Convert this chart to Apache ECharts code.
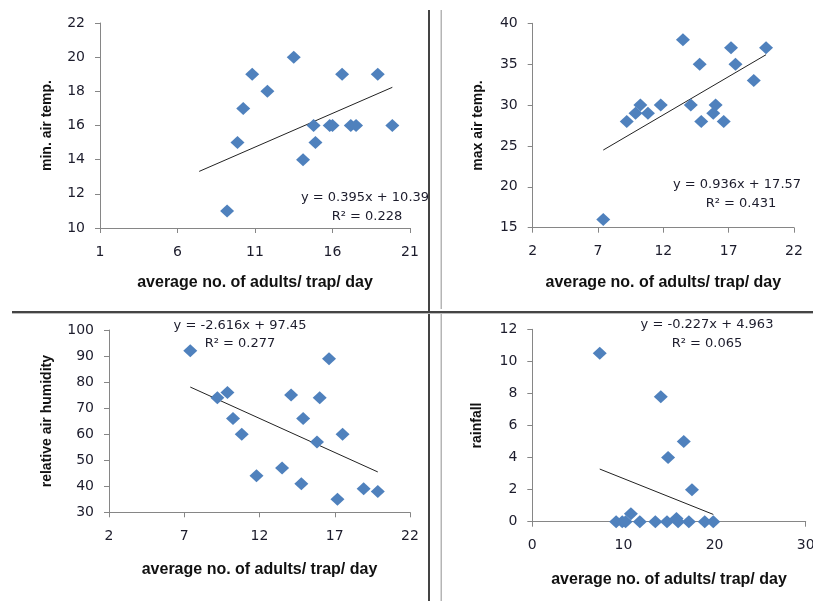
<!DOCTYPE html>
<html>
<head>
<meta charset="utf-8">
<script src="https://cdn.jsdelivr.net/npm/echarts@6/dist/echarts.min.js"></script>
<style>
html,body{margin:0;padding:0;background:#fff;}
#c{width:813px;height:601px;}
</style>
</head>
<body>
<div id="c"></div>
<script>
// ---- data ----
const adults   = [7.4, 9.2, 9.87, 10.24, 10.82, 11.8, 13.5, 14.1, 14.78, 14.9, 15.82, 16.0, 16.62, 17.18, 17.52, 18.92, 19.86];
const minTemp  = [null, 11, 15, 17, 19, 18, 20, 14, 16, 15, 16, 16, 19, 16, 16, 19, 16];
const maxTemp  = [16, 28, 29, 30, 29, 30, 38, 30, 35, 28, 29, 30, 28, 37, 35, 33, 37];
const humidity = [92, 74, 76, 66, 60, 44, 47, 75, 41, 66, 57, 74, 89, 35, 60, 39, 38];
const rainfall = [10.5, 0, 0, 0, 0.5, 0, 0, 7.8, 0, 4, 0.2, 0, 5, 0, 2, 0, 0];

const yNames   = ['min. air temp.', 'max air temp.', 'relative air humidity', 'rainfall'];
const xName    = 'average no. of adults/ trap/ day';
const xMins    = [1, 2, 2, 0];
const xMaxs    = [21, 22, 22, 30];
const xSteps   = [5, 5, 5, 10];
const yMins    = [10, 15, 30, 0];
const yMaxs    = [22, 40, 100, 12];
const ySteps   = [2, 5, 10, 2];
const slopes     = [0.395, 0.936, -2.616, -0.227];
const intercepts = [10.39, 17.57, 97.45, 4.963];
const eqLabels = ['y = 0.395x + 10.39', 'y = 0.936x + 17.57', 'y = -2.616x + 97.45', 'y = -0.227x + 4.963'];
const r2Labels = ['R\u00b2 = 0.228', 'R\u00b2 = 0.431', 'R\u00b2 = 0.277', 'R\u00b2 = 0.065'];
const trendRange = [7.4, 19.86];

// ---- layout ----
const grids = [
  {left: 100,   top: 23,    width: 310,   height: 205},
  {left: 532.7, top: 23.3,  width: 261.3, height: 204.4},
  {left: 109,   top: 330,   width: 301,   height: 182.3},
  {left: 532.3, top: 329.3, width: 273.4, height: 192.4}
];
const yNameGaps = [46, 48, 55, 48];
const xNameGaps = [47, 47, 49, 50];
const eqPos = [[365, 198, 367, 217], [737, 185, 741, 204], [240, 326, 240, 344], [707, 325, 707, 344]];

const seriesY = [minTemp, maxTemp, humidity, rainfall];
const axisColor = '#868686';
const labelFont = 'DejaVu Sans';

const xAxes = [], yAxes = [], series = [], graphics = [];
for (let i = 0; i < 4; i++) {
  xAxes.push({
    type: 'value', gridIndex: i, min: xMins[i], max: xMaxs[i], interval: xSteps[i],
    name: xName, nameLocation: 'middle', nameGap: xNameGaps[i],
    nameTextStyle: {fontFamily: 'Liberation Sans', fontWeight: 'bold', fontSize: 16, color: '#111'},
    axisLine: {show: true, onZero: false, lineStyle: {color: axisColor, width: 1}},
    axisTick: {show: true, length: 5, lineStyle: {color: axisColor}},
    axisLabel: {margin: 17, fontFamily: labelFont, fontSize: 14, color: '#1c1c2c', showMinLabel: true, showMaxLabel: true},
    splitLine: {show: false}
  });
  yAxes.push({
    type: 'value', gridIndex: i, min: yMins[i], max: yMaxs[i], interval: ySteps[i],
    name: yNames[i], nameLocation: 'middle', nameGap: yNameGaps[i],
    nameTextStyle: {fontFamily: 'Liberation Sans', fontWeight: 'bold', fontSize: 14, color: '#111'},
    axisLine: {show: true, onZero: false, lineStyle: {color: axisColor, width: 1}},
    axisTick: {show: true, length: 5, lineStyle: {color: axisColor}},
    axisLabel: {margin: 15, fontFamily: labelFont, fontSize: 14, color: '#1c1c2c', showMinLabel: true, showMaxLabel: true},
    splitLine: {show: false}
  });
  const pts = [];
  adults.forEach((x, k) => { if (seriesY[i][k] !== null) pts.push([x, seriesY[i][k]]); });
  series.push({
    type: 'scatter', xAxisIndex: i, yAxisIndex: i, data: pts,
    symbol: 'diamond', symbolSize: [14, 13],
    itemStyle: {color: '#4F81BD', opacity: 1},
    silent: true, z: 3
  });
  series.push({
    type: 'line', xAxisIndex: i, yAxisIndex: i,
    data: trendRange.map(x => [x, slopes[i] * x + intercepts[i]]),
    symbol: 'none', lineStyle: {color: '#222', width: 1}, silent: true, z: 2
  });
  const p = eqPos[i];
  graphics.push({type: 'text', z: 50, style: {text: eqLabels[i], x: p[0], y: p[1], align: 'center', verticalAlign: 'middle', font: '13px "DejaVu Sans"', fill: '#1c1c2c'}});
  graphics.push({type: 'text', z: 50, style: {text: r2Labels[i], x: p[2], y: p[3], align: 'center', verticalAlign: 'middle', font: '13px "DejaVu Sans"', fill: '#1c1c2c'}});
}

// clipping panel + dividers
graphics.push({type: 'rect', z: 100, shape: {x: 429.5, y: 0, width: 11, height: 310}, style: {fill: '#fff'}});
graphics.push({type: 'rect', z: 101, shape: {x: 428, y: 10, width: 2, height: 591}, style: {fill: '#444'}});
graphics.push({type: 'rect', z: 101, shape: {x: 440.5, y: 10, width: 1.5, height: 299}, style: {fill: '#b5b5b5'}});
graphics.push({type: 'rect', z: 101, shape: {x: 440.5, y: 313.5, width: 1.5, height: 288}, style: {fill: '#b5b5b5'}});
graphics.push({type: 'rect', z: 101, shape: {x: 12, y: 311, width: 801, height: 2}, style: {fill: '#444'}});
graphics.push({type: 'rect', z: 101, shape: {x: 12, y: 313, width: 801, height: 1}, style: {fill: '#bbb'}});

const chart = echarts.init(document.getElementById('c'), null, {renderer: 'canvas'});
chart.setOption({
  animation: false,
  backgroundColor: '#fff',
  grid: grids.map(g => Object.assign({containLabel: false, outerBoundsMode: 'none'}, g)),
  xAxis: xAxes,
  yAxis: yAxes,
  series: series,
  graphic: graphics
});
</script>
</body>
</html>
